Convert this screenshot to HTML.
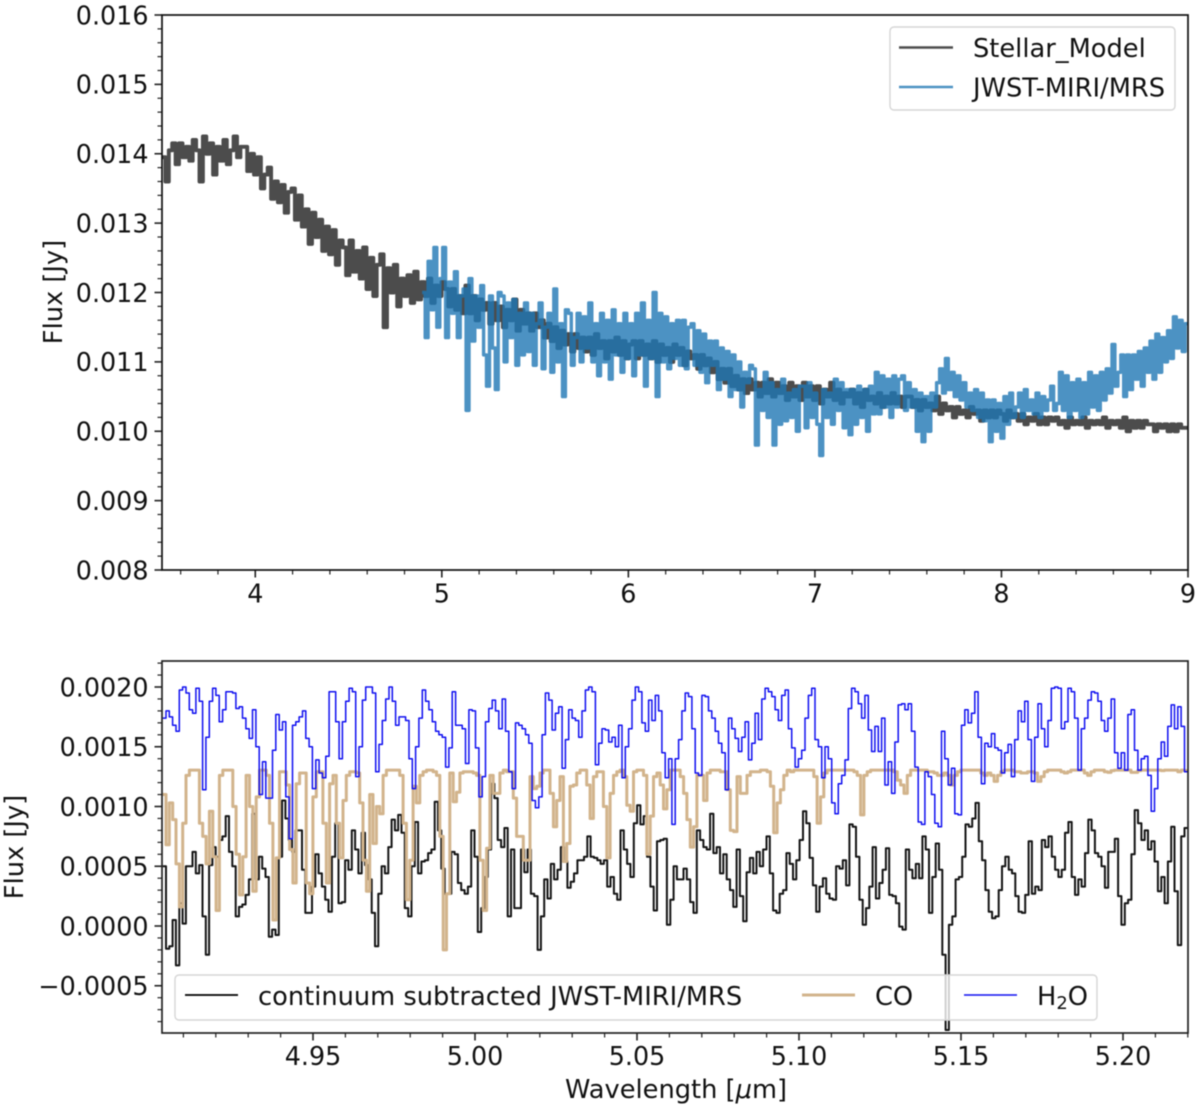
<!DOCTYPE html>
<html>
<head>
<meta charset="utf-8">
<title>Flux spectra</title>
<style>
html,body{margin:0;padding:0;background:#fff;}
svg{display:block;filter:blur(0.45px);}
text{font-family:"DejaVu Sans","Liberation Sans",sans-serif;font-size:25.7px;fill:#111;}
text.tick{font-size:25.4px;}
</style>
</head>
<body>
<svg id="chart" xmlns="http://www.w3.org/2000/svg" width="1200" height="1109" viewBox="0 0 1200 1109">
  <defs>
    <clipPath id="clip-top"><rect x="162" y="15" width="1026" height="555"/></clipPath>
    <clipPath id="clip-bottom"><rect x="162" y="661" width="1026" height="372"/></clipPath>
  </defs>
  <rect width="1200" height="1109" fill="#fff"/>
  <g id="top-marks" clip-path="url(#clip-top)"></g>
  <g id="bottom-marks" clip-path="url(#clip-bottom)"></g>
  <g id="axes"></g>

  <rect x="162" y="15" width="1026" height="555" fill="none" stroke="#111" stroke-width="1.7"/>
  <rect x="162" y="661" width="1026" height="372" fill="none" stroke="#222" stroke-width="1.7"/>

  <text text-anchor="middle" transform="translate(62 292) rotate(-90)">Flux [Jy]</text>
  <text text-anchor="middle" transform="translate(23 847) rotate(-90)">Flux [Jy]</text>
  <text x="676" y="1098" text-anchor="middle">Wavelength [<tspan font-style="italic">μ</tspan>m]</text>

  <g>
    <rect x="890" y="27" width="285" height="83" rx="4" fill="#fff" fill-opacity="0.8" stroke="#d6d6d6" stroke-width="1.4"/>
    <line x1="899" x2="953" y1="47.5" y2="47.5" stroke="#4d4d4d" stroke-width="2.6"/>
    <text x="973" y="57">Stellar_Model</text>
    <line x1="899" x2="953" y1="87" y2="87" stroke="#4c92c3" stroke-width="2.6"/>
    <text x="973" y="96.5">JWST-MIRI/MRS</text>
  </g>

  <g>
    <rect x="175" y="975" width="922" height="45" rx="4" fill="#fff" fill-opacity="0.8" stroke="#d6d6d6" stroke-width="1.4"/>
    <line x1="185" x2="238" y1="995" y2="995" stroke="#000" stroke-width="1.7"/>
    <text x="258" y="1005">continuum subtracted JWST-MIRI/MRS</text>
    <line x1="802" x2="855" y1="995" y2="995" stroke="#d2b48c" stroke-width="3"/>
    <text x="875" y="1005">CO</text>
    <line x1="964" x2="1017" y1="995" y2="995" stroke="#1010f0" stroke-width="1.5"/>
    <text x="1037" y="1005">H<tspan font-size="18px" dy="4">2</tspan><tspan dy="-4">O</tspan></text>
  </g>
</svg>
<script>
// ---- Top panel data (flux in mJy, evenly spaced in wavelength) ----
const stellarRange = [3.5, 9.0];
const stellarFlux = [
13.95,13.6,14.05,14.15,13.85,14.15,13.95,14.1,13.9,14.2,14.05,13.6,14.25,14.0,14.15,13.7,14.1,13.9,14.2,13.85,14.05,14.25,13.95,14.1,
14.1,13.75,14.0,13.7,13.95,13.5,13.7,13.8,13.35,13.6,13.3,13.55,13.15,13.45,13.5,13.05,
13.4,12.95,13.2,12.7,13.15,12.8,13.05,12.6,12.95,12.55,12.9,12.4,12.75,12.65,12.25,
12.75,12.3,12.6,12.2,12.65,12.05,12.5,11.95,12.4,12.55,11.5,12.35,12.0,12.4,11.8,12.2,11.95,12.25,11.85,12.3,11.9,
12.15,11.95,12.2,11.85,12.1,11.95,12.15,
12.05,11.8,12.05,11.75,11.95,11.7,12.1,11.7,11.95,11.6,11.9,11.75,11.85,11.55,11.85,11.6,11.8,11.5,11.75,11.6,11.9,11.45,11.75,11.55,11.7,11.45,11.7,11.5,
11.6,11.35,11.55,11.3,11.5,11.2,11.45,11.25,11.4,11.15,11.4,11.2,11.35,11.15,11.35,11.1,11.4,11.2,11.3,11.05,11.3,11.15,11.35,11.1,11.3,11.05,11.25,
11.3,11.05,11.3,11.1,11.25,11.05,11.3,11.0,11.25,11.1,11.2,11.0,11.25,11.1,11.2,10.95,11.15,11.05,11.1,10.9,11.1,10.95,
11.05,10.85,11.0,10.75,10.9,10.7,10.9,10.65,10.8,10.6,10.75,10.55,10.75,10.6,10.7,10.5,
10.7,10.55,10.75,10.5,10.7,10.55,10.65,10.45,10.7,10.5,10.65,10.45,10.7,10.5,10.65,10.45,
10.65,10.4,10.6,10.5,10.7,10.45,10.6,10.4,10.55,10.5,10.6,10.4,10.55,10.35,10.6,10.45,10.5,10.4,10.55,10.35,10.5,10.4,10.55,10.4,10.5,10.35,10.5,
10.5,10.35,10.45,10.3,10.45,10.35,10.4,10.3,10.5,10.25,10.4,10.3,10.35,10.2,10.35,10.25,10.3,10.2,10.35,10.25,10.3,10.15,10.3,10.2,10.3,10.2,10.3,
10.25,10.15,10.3,10.2,10.25,10.15,10.25,10.1,10.2,10.15,10.25,10.1,10.2,10.1,10.2,10.15,10.2,10.1,10.15,10.05,10.2,10.1,10.15,10.1,10.2,10.05,10.15,10.1,10.15,10.1,10.2,10.05,10.15,10.1,10.15,10.05,10.2,10.0,10.15,10.05,10.15,10.05,10.15,10.1,10.1,10.0,10.1,10.05,10.1,10.0,10.1,10.0,10.1,10.05,10.05
];
const jwstRange = [4.895, 9.0];
const jwstFlux = [
12.0,11.35,12.45,11.75,12.65,11.5,12.2,
12.65,11.35,12.15,11.7,12.3,11.35,11.95,12.05,10.3,12.2,11.3,11.95,11.5,12.1,11.1,10.65,11.95,11.2,10.6,12.0,
11.95,11.0,11.85,11.35,11.9,10.95,11.7,11.1,11.85,11.15,11.7,10.95,11.55,11.85,10.9,11.5,11.7,10.85,12.05,11.0,11.55,10.5,11.75,
11.7,10.95,11.35,11.7,11.0,11.65,11.2,11.85,11.0,11.55,10.8,11.7,11.0,11.6,10.75,11.75,11.1,11.55,10.85,11.7,11.05,11.55,10.8,11.7,11.1,
11.85,10.65,11.6,11.05,12.0,10.5,11.7,11.0,11.65,10.9,11.55,11.05,11.6,10.95,11.6,10.9,11.5,
11.55,10.95,11.45,10.85,11.4,10.7,11.3,10.95,11.3,10.6,11.2,10.75,11.15,10.5,11.1,10.6,11.0,10.35,10.85,10.7,10.95,
10.9,9.8,10.6,10.3,10.85,10.2,10.7,9.8,10.6,10.1,10.75,10.15,10.55,10.2,10.6,10.0,10.65,
10.65,10.05,10.7,10.2,10.55,10.1,9.65,10.6,10.2,10.55,10.1,10.75,10.3,10.7,10.05,10.6,9.95,
10.6,10.1,10.65,10.2,10.6,10.0,10.65,10.25,10.85,10.25,10.8,10.35,10.75,10.2,10.8,10.35,10.75,
10.8,10.3,10.7,10.35,10.6,10.0,10.55,9.85,10.5,10.0,10.55,10.35,10.7,10.9,10.55,11.05,10.6,
10.85,10.5,10.8,10.45,10.7,10.35,10.55,10.3,10.6,10.2,10.55,10.15,10.45,9.85,10.45,10.0,10.4,
9.9,10.5,10.1,10.55,10.2,10.35,10.55,10.2,10.6,10.3,10.45,10.25,10.55,10.2,10.5,10.3,10.45,
10.65,10.3,10.4,10.85,10.3,10.8,10.2,10.7,10.3,10.75,10.2,10.7,10.25,10.85,10.35,10.8,10.3,
10.85,10.45,10.9,10.55,11.25,10.65,10.85,11.1,10.5,11.1,10.6,11.1,10.75,11.15,10.65,11.2,10.85,
11.3,10.75,11.4,10.85,11.35,11.0,11.45,11.05,11.65,11.2,11.6,11.15,11.55
];

// ---- Bottom panel data (flux in units of 1e-4 Jy, evenly spaced in wavelength) ----
const bottomRange = [4.9036, 5.22];
const continuumFlux = [
5.0,-1.9,-1.7,0.5,-3.3,1.9,0.2,5,5,6.2,4.4,5.1,0.8,-2.4,5.1,6.6,5.8,7.2,7.5,9.2,6.2,5,0.8,1.6,1.8,2.6,3.9,9.4,3.9,5.8,4.8,4.1,-0.9,-0.3,-0.75,5.8,10.5,9,7.2,6.2,8,8,4.7,1.1,1.1,3.3,6,4.4,3.3,2.2,1.2,5.8,8.6,1.9,2,5.5,4.7,8,6.4,4.4,7.8,5.1,3.9,1.1,-1.7,2.7,5,4.4,6.6,8.9,8,9.3,7.8,1.5,0.8,5,8.7,4.4,5.4,5.5,6.1,6.4,10.4,8,4.8,2.7,2.7,6.2,6,3.6,3,2.7,3.3,8,5.8,-0.5,1.5,4.1,6.4,11.9,10.7,7.2,6.6,8.2,0.8,6.4,
1.5,1.5,6.4,4.5,6.4,2.7,2.5,-2,0.8,3.9,2.3,5.2,3.9,4.7,6.6,5.4,3.2,3.7,4.4,5.5,5.5,5.8,7.5,5.8,5.7,5.5,5.2,5.5,3.3,4.1,2.7,2.2,8,6.4,5.2,4.1,8.6,10.1,8.5,9.2,5.8,3.3,1.3,7.1,7.2,7.3,0.1,2.2,5,3.9,3.9,4.8,3.9,2,1.1,8,7.2,6.6,6.4,9.4,6.1,6.6,4.4,6,3.9,3,1.6,6.4,2.5,0.4,4.5,5.7,4.4,6.2,5,6.4,7.5,4.4,1.3,1.1,2.7,3,6.1,5.2,3.9,5.5,7.2,9.6,8.6,5.7,3.4,1.2,3.3,4,2.7,2.3,2.2,5,4.8,
5.5,3.4,8.5,8.3,5.8,2.2,0.1,1.5,3.3,6.6,2.3,3.6,4.7,6.5,2.6,2.5,1.9,-0.05,-0.3,6.4,4.7,4,5.2,4,7.5,6.4,1.1,4.1,6.9,4.7,-2.4,-8.7,0.1,0.8,3.9,4.1,5.8,8.5,8.3,9,10.3,7.1,5.5,3,1.2,0.65,0.8,3,5,5.8,4.7,4.4,2.5,1.2,1.1,2.6,7.1,2.7,3.3,3,7.2,6.6,7.5,5.8,4.7,4.1,4.7,7.8,8.7,4.1,2.6,3.9,3.3,6.1,8.9,8,6.1,5.8,5,3.2,6.2,6.2,7.3,2.5,0.1,1.9,2.2,6,9.7,8.6,7.2,8,6.4,7.1,5.4,2.9,4.1,1.9,5.4,8.3,2.9,-1.6,7.5,8.2
];
const coFlux = [
11,6.8,10.3,8.9,5.2,1.6,8.6,12.6,13.05,13.05,13.05,8.6,7.5,5.2,9.6,5.8,1.3,12.6,13.05,13.05,13.05,10,6,2.6,5.8,12.6,10,2.9,10.8,13.05,13.05,12.6,8.6,0.5,5.7,12.9,12.9,11.8,6.4,3.6,11.9,12.8,12.8,3.6,2.7,10.8,12.9,12.9,8.6,3.6,11.9,12.6,8.6,5.7,10.5,12.6,12.9,12.9,12.8,10.3,5.5,2.9,11,6.9,10,9.4,12.6,13.05,13.05,13.05,13.05,12.6,8.6,2.2,5.5,11.7,10.3,12.6,12.9,13.05,13.05,12.9,12.6,7.5,-2.0,2.7,12.8,10.4,11.2,12.8,12.9,12.9,12.9,12.8,12.6,5.5,1.3,6.5,12.6,11.1,11.1,12.8,13.05,12.9,12.9,
10.7,7.5,7.5,5.5,5.5,12.5,11.5,11.7,12.8,13.05,13.05,11.1,8.3,10.5,12.5,5.4,6.9,11.7,11.8,12.8,13.05,13.05,11.8,9,12.5,12.9,12.9,10,5.7,11.1,12.6,12.9,13.05,12.5,10.1,9.6,12.9,13.05,13.05,12.6,6,9.2,12.5,12.8,11.8,9.8,11.4,13.05,13.05,13.05,12.5,11.1,8.9,6.6,8.3,12.6,12.6,10.5,12.8,13.05,13.05,13.05,12.9,12.9,11.4,8,7.9,12.5,11.1,11.1,12.6,12.9,12.9,12.9,13.05,13.05,12.9,11.7,7.8,10.3,11.4,12.6,13.05,12.9,13.05,13.05,13.05,13.05,13.05,13.05,12.5,8.6,10.8,12.8,13.05,13.05,13.05,13.05,13.05,
13.05,13.05,13.05,12.9,12.6,9.3,12.6,12.9,13.05,13.05,13.05,13.05,13.05,13.05,13.05,12.9,12.2,11.8,11.1,12.6,13.05,13.05,13.05,13.05,13.05,12.9,12.9,12.8,12.6,12.6,12.8,12.6,11.8,12.6,12.9,13.05,13.05,13.05,13.05,13.05,13.05,12.8,12.6,12.8,12.6,12.1,12.6,12.9,13.05,13.05,13.05,12.9,12.9,12.8,12.8,12.9,12.9,12.8,12.1,12.5,12.9,13.05,13.05,13.05,13.05,12.9,12.8,12.9,13.05,13.05,13.05,13.05,12.8,12.6,12.9,13.05,13.05,13.05,12.9,12.85,13,13.05,13.05,13.05,13.05,13.05,12.85,12.85,13,13.05,13.05,13.05,13.05,13.05,13.05,13,13.05,13.05,13.05,13.05,12.9,13.05,13
];
const h2oFlux = [
17.4,18.0,17.5,16.8,16.3,19.75,20,19.5,18.1,17.8,19.9,18.8,11.4,15.8,18.8,19.9,19.3,17.1,18.1,19.6,19.6,19.5,18.2,18.35,17.4,16.5,15.7,18.1,15.0,11.0,13.75,10.7,10.7,14.7,17.7,16.4,17.1,10.8,7.3,16.8,17.1,17.5,18,15.7,15,11.5,13.9,12.8,12.4,14.2,19.6,19.6,17.1,14,17.1,18.8,19.9,19.6,12.5,15,18.9,20,20,19.5,12.9,15.2,17.2,19,20,18.8,16.8,17.5,17.5,17.2,14,11.5,15,17.4,19.75,18.8,18.1,17.1,16.3,16,15.8,13.3,14.9,19.6,16.8,16.8,16.5,13.6,18.1,18,14.9,10.8,12.5,17.1,18.2,18.9,18,16.5,19,16.3,12.9,
11.5,17,16.8,16.5,16,15.3,10.5,9.9,10.8,16,19.5,18.9,16.4,17.8,18.35,13.2,15.6,18.1,17.4,17.2,15.8,18,19.75,20,19.6,13.5,15.3,16.5,16.4,15.4,15.8,15,16.8,12.4,15,16.5,18.9,20,19.6,17,16.3,18.9,17.2,19.3,18,14.5,12.4,14,8.5,14,15.6,18,19.5,19.2,16.5,12.8,12.6,19.3,19.2,18,17.4,16.3,15.3,14.5,11.4,17.4,16.5,15.7,14.6,15.8,17.1,13.9,15.3,17.8,15.6,19,19.9,19.6,19.2,18.1,17.2,19.3,19.75,16.5,14.9,13.3,14,14.7,17.4,19.3,19.9,15.6,15,12.4,15,14,10.3,9.4,11.9,
12.6,13.9,18.2,19.9,19.6,18.6,17.4,19.3,16.4,14.6,16.7,14.6,17.4,11.8,13.75,11.1,15.4,18.5,18.6,18.1,18.6,16.3,13.3,8.7,8.5,12.9,12.5,11,8.6,8.3,16.3,14,11.8,13.2,9.4,9.3,16.8,18.1,17,17.8,19.6,15.8,11.9,15.3,15,16.1,14.9,14.7,12.8,14.5,15.2,12.5,15.6,18,17.1,18.8,15.6,12.1,15.8,18.6,16.5,15,17.2,19.9,20,19.9,16.5,17.1,19.9,19.6,17.4,13.05,16.5,17.4,18.9,19.6,19.5,18.8,17.2,16.3,17.4,19,14.5,13.2,14.5,13.05,17.7,18.1,14.7,13.05,14,14.2,12.6,9.6,11.5,14,15.4,14.2,16.7,18.5,16.5,18.35,16.7,12.9
];

// ---- Tick values and labels ----
const topXMajor = [4,5,6,7,8,9];
const topXLabels = ["4","5","6","7","8","9"];
const topYMajor = [0.008,0.009,0.010,0.011,0.012,0.013,0.014,0.015,0.016];
const topYLabels = ["0.008","0.009","0.010","0.011","0.012","0.013","0.014","0.015","0.016"];
const bottomXMajor = [4.95,5.00,5.05,5.10,5.15,5.20];
const bottomXLabels = ["4.95","5.00","5.05","5.10","5.15","5.20"];
const bottomYMajor = [-0.0005,0,0.0005,0.0010,0.0015,0.0020];
const bottomYLabels = ["\u22120.0005","0.0000","0.0005","0.0010","0.0015","0.0020"];

// ---- Axis functions ----
const NS = "http://www.w3.org/2000/svg";
const xTop = v => 162 + (v - 3.5) / (9 - 3.5) * 1026;
const yTop = v => 570 - (v - 0.008) / 0.008 * 555;
const xBottom = v => 313 + (v - 4.95) * 3240;
const yBottom = v => 926 - v * 119500;

function make(parent, tag, attrs, text) {
  const el = document.createElementNS(NS, tag);
  for (const k in attrs) el.setAttribute(k, attrs[k]);
  if (text !== undefined) el.textContent = text;
  parent.appendChild(el);
  return el;
}

const topG = document.getElementById("top-marks");
const bottomG = document.getElementById("bottom-marks");
const axesG = document.getElementById("axes");

function stepPath(values, range, xs, ys) {
  const n = values.length;
  let d = "";
  values.forEach((v, i) => {
    const w0 = range[0] + (range[1] - range[0]) * i / n;
    const w1 = range[0] + (range[1] - range[0]) * (i + 1) / n;
    const yy = ys(v).toFixed(1);
    d += (i ? "L" : "M") + xs(w0).toFixed(1) + " " + yy + "L" + xs(w1).toFixed(1) + " " + yy;
  });
  return d;
}
const yTopMilli = v => yTop(v / 1000);
const yBottomScaled = v => yBottom(v * 1e-4);

// Top panel series
const stellarLine = make(topG, "path", {d: stepPath(stellarFlux, stellarRange, xTop, yTopMilli), fill: "none", stroke: "#000", "stroke-opacity": 0.7, "stroke-width": 3.9, "stroke-linejoin": "round"});


const jwstLine = make(topG, "path", {d: stepPath(jwstFlux, jwstRange, xTop, yTopMilli), fill: "none", stroke: "#1f77b4", "stroke-opacity": 0.8, "stroke-width": 3.4, "stroke-linejoin": "round"});



// Bottom panel series
const continuumLine = make(bottomG, "path", {d: stepPath(continuumFlux, bottomRange, xBottom, yBottomScaled), fill: "none", stroke: "#000", "stroke-opacity": 0.92, "stroke-width": 2, "stroke-linejoin": "round"});


const coLine = make(bottomG, "path", {d: stepPath(coFlux, bottomRange, xBottom, yBottomScaled), fill: "none", stroke: "#d2b48c", "stroke-width": 3, "stroke-linejoin": "round"});


const h2oLine = make(bottomG, "path", {d: stepPath(h2oFlux, bottomRange, xBottom, yBottomScaled), fill: "none", stroke: "#1010f0", "stroke-width": 1.5, "stroke-linejoin": "round"});



// Ticks
function xTicks(scale, majors, labels, minorStep, lo, hi, axisY, labelY, prefix) {
  const nMinor = Math.round((hi - lo) / minorStep);
  for (let i = 0; i <= nMinor; i++) {
    const v = lo + i * minorStep;
    const px = scale(v);
    if (px < 161.5 || px > 1188.5) continue;
    const isMajor = majors.some(m => Math.abs(m - v) < minorStep / 4);
    const t = make(axesG, "line", {x1: px, x2: px, y1: axisY, y2: axisY + (isMajor ? 7.5 : 4.5), stroke: "#222", "stroke-width": isMajor ? 1.6 : 1.2});
    
    
  }
  majors.forEach((m, i) => {
    const t = make(axesG, "text", {class: "tick", x: scale(m), y: labelY, "text-anchor": "middle"}, labels[i]);
    
    
  });
}
function yTicks(scale, majors, labels, minorStep, lo, hi, prefix) {
  const nMinor = Math.round((hi - lo) / minorStep);
  for (let i = 0; i <= nMinor; i++) {
    const v = lo + i * minorStep;
    const py = scale(v);
    const isMajor = majors.some(m => Math.abs(m - v) < minorStep / 4);
    const t = make(axesG, "line", {x1: 162, x2: 162 - (isMajor ? 7.5 : 4.5), y1: py, y2: py, stroke: "#222", "stroke-width": isMajor ? 1.6 : 1.2});
    
    
  }
  majors.forEach((m, i) => {
    const t = make(axesG, "text", {class: "tick", x: 148.5, y: scale(m) + 9.3, "text-anchor": "end"}, labels[i]);
    
    
  });
}
xTicks(xTop, topXMajor, topXLabels, 0.2, 3.6, 9.0, 570, 602.5, "top");
yTicks(yTop, topYMajor, topYLabels, 0.0002, 0.008, 0.016, "top");
xTicks(xBottom, bottomXMajor, bottomXLabels, 0.01, 4.91, 5.22, 1033, 1065, "bottom");
yTicks(yBottom, bottomYMajor, bottomYLabels, 0.0001, -0.0008, 0.0022, "bottom");
</script>
</body>
</html>
